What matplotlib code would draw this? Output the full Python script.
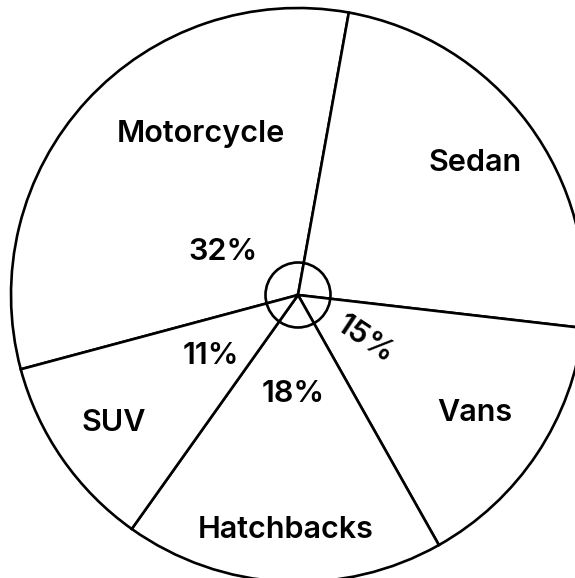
import numpy as np
import matplotlib
matplotlib.use("Agg")
import matplotlib.pyplot as plt
from matplotlib.patches import Circle

# Vehicle mix shares (percent)
categories = ["Motorcycle", "Sedan", "Vans", "Hatchbacks", "SUV"]
shares = [32, 24, 15, 18, 11]
pct_labels = ["32%", None, "15%", "18%", "11%"]

plt.rcParams["font.family"] = ["Inter", "DejaVu Sans"]

W, H = 575, 578
fig = plt.figure(figsize=(W / 100, H / 100), dpi=100)
ax = fig.add_axes([0, 0, 1, 1])

cx, cy, R = 298, H - 295, 287
lw = 1.9

wedges, _ = ax.pie(
    shares,
    startangle=195,
    counterclock=False,
    radius=R,
    center=(cx, cy),
    wedgeprops=dict(facecolor="white", edgecolor="black", linewidth=lw),
)
ax.add_patch(Circle((cx, cy), 32.5, fill=False, edgecolor="black",
                    linewidth=lw, zorder=5))

# label placement: (fraction across wedge, radius) for name and percentage
name_pos = {"Motorcycle": (0.36, 0.655), "Sedan": (0.5, 0.77),
            "Vans": (0.5, 0.74), "Hatchbacks": (0.5, 0.82), "SUV": (0.5, 0.78)}
pct_pos = {"Motorcycle": (0.61, 0.30), "Vans": (0.5, 0.28),
           "Hatchbacks": (0.5, 0.345), "SUV": (0.5, 0.37)}

fs = 22
for w, name, pct in zip(wedges, categories, pct_labels):
    f, r = name_pos[name]
    ang = np.deg2rad(w.theta1 + f * (w.theta2 - w.theta1))
    ax.text(cx + r * R * np.cos(ang), cy + r * R * np.sin(ang), name,
            ha="center", va="center", fontsize=fs, fontweight="semibold")
    if pct:
        f, r = pct_pos[name]
        a = w.theta1 + f * (w.theta2 - w.theta1)
        ang = np.deg2rad(a)
        rot = a if name == "Vans" else 0
        ax.text(cx + r * R * np.cos(ang), cy + r * R * np.sin(ang), pct,
                ha="center", va="center", fontsize=fs, fontweight="semibold",
                rotation=rot, rotation_mode="anchor")

ax.set_xlim(0, W)
ax.set_ylim(0, H)
ax.set_aspect("equal")
ax.axis("off")
fig.savefig("out.png", dpi=100, facecolor="white")
